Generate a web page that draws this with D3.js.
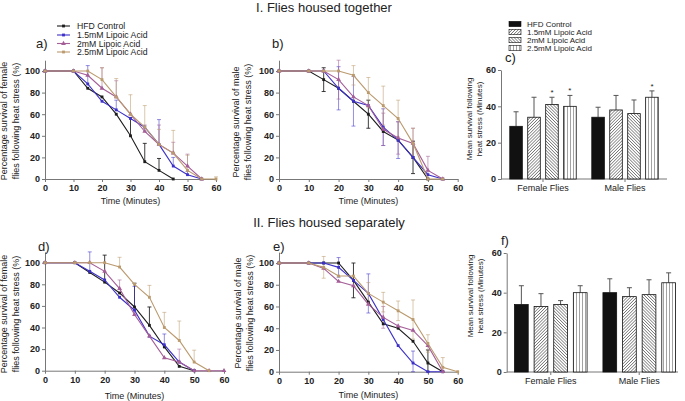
<!DOCTYPE html>
<html>
<head>
<meta charset="utf-8">
<script src="https://cdn.jsdelivr.net/npm/d3@7"></script>
<style>
  body { margin: 0; background: #fff; }
  svg { font-family: "Liberation Sans", Arial, sans-serif; }
</style>
</head>
<body>
<script>
// ---- data ----
const times = [0, 10, 15, 20, 25, 30, 35, 40, 45, 50, 55, 60];
const groups = ["HFD Control", "1.5mM Lipoic Acid", "2mM Lipoic Acid", "2.5mM Lipoic Acid"];
const lineColors = ["#1c1c1c", "#3d31c9", "#a45e98", "#bb9a6e"];
const xTicks = [0, 10, 20, 30, 40, 50, 60];
const yTicks = [0, 20, 40, 60, 80, 100];
const barTicks = [0, 20, 40, 60];
const sexes = ["Female Flies", "Male Flies"];

// a) female, housed together
const aCtrl = [100, 100, 84, 76, 60, 40, 16, 8, 0, null, null, null];
const aCtrlErr = [0, 0, 0, 0, 0, 17, 17, 11, 0, 0, 0, 0];
const aLow = [100, 100, 88, 72, 64, 56, 48, 32, 12, 4, 0, null];
const aLowErr = [0, 0, 17, 0, 9, 0, 0, 23, 8, 3, 0, 0];
const aMid = [100, 100, 96, 84, 76, 60, 44, 32, 24, 12, 0, null];
const aMidErr = [0, 0, 0, 19, 15, 0, 6, 18, 10, 11, 0, 0];
const aHigh = [100, 100, 100, 92, 76, 60, 48, 32, 24, 8, 0, 0];
const aHighErr = [0, 0, 0, 11, 17, 18, 20, 14, 21, 14, 0, 2];

// b) male, housed together
const bCtrl = [100, 100, 92, 84, 72, 60, 44, 36, 20, 0, null, null];
const bCtrlErr = [0, 0, 11, 0, 0, 13, 0, 0, 15, 0, 0, 0];
const bLow = [100, 100, 100, 84, 72, 68, 48, 36, 20, 4, 0, null];
const bLowErr = [0, 0, 0, 20, 23, 0, 17, 17, 0, 0, 0, 0];
const bMid = [100, 100, 100, 92, 76, 68, 46, 38, 33, 8, 0, null];
const bMidErr = [0, 0, 0, 18, 0, 0, 15, 15, 14, 13, 0, 0];
const bHigh = [100, 100, 100, 100, 96, 80, 68, 56, 33, 0, 0, null];
const bHighErr = [0, 0, 0, 0, 9, 14, 18, 17, 14, 0, 0, 0];

// d) female, housed separately
const dCtrl = [100, 100, 91, 82, 72, 59, 42, 22, 4, 0, null, null];
const dCtrlErr = [0, 0, 0, 25, 0, 22, 17, 0, 0, 0, 0, 0];
const dLow = [100, 100, 92, 84, 68, 56, 32, 24, 8, 0, null, null];
const dLowErr = [0, 0, 18, 0, 0, 22, 0, 10, 0, 0, 0, 0];
const dMid = [100, 100, 100, 92, 76, 52, 32, 12, 8, 0, 0, 0];
const dMidErr = [0, 0, 0, 0, 8, 0, 0, 0, 12, 0, 0, 0];
const dHigh = [100, 100, 100, 100, 96, 80, 68, 40, 28, 8, 0, null];
const dHighErr = [0, 0, 0, 0, 9, 0, 11, 14, 18, 11, 0, 0];

// e) male, housed separately
const eCtrl = [100, 100, 100, 100, 84, 64, 44, 40, 28, 8, 0, null];
const eCtrlErr = [0, 0, 0, 0, 16, 0, 0, 0, 0, 12, 0, 0];
const eLow = [100, 100, 100, 96, 84, 72, 48, 24, 8, 0, 0, null];
const eLowErr = [0, 0, 0, 9, 0, 18, 0, 0, 11, 0, 0, 0];
const eMid = [100, 100, 95, 83, 79, 62, 50, 42, 38, 24, 0, null];
const eMidErr = [0, 0, 0, 0, 0, 0, 10, 0, 0, 0, 0, 0];
const eHigh = [100, 100, 96, 88, 88, 72, 64, 56, 48, 26, 4, 0];
const eHighErr = [0, 0, 10, 0, 0, 10, 9, 9, 18, 8, 9, 0];

// c) mean survival, housed together
const cFemale = [29, 34, 41, 40];
const cFemaleErr = [8, 11, 4, 6];
const cMale = [34, 38, 36, 45];
const cMaleErr = [5.5, 8, 7.5, 3.5];
const cFemaleStar = [false, false, true, true];
const cMaleStar = [false, false, false, true];

// f) mean survival, housed separately
const fFemale = [34, 33, 34, 40];
const fFemaleErr = [9.5, 6.5, 2, 3.5];
const fMale = [40, 38, 39, 45];
const fMaleErr = [7, 4.5, 7.5, 5];
const fFemaleStar = [false, false, false, false];
const fMaleStar = [false, false, false, false];

// ---- drawing ----
const svg = d3.select("body").append("svg").attr("width", 685).attr("height", 401);

const defs = svg.append("defs");
function hatch(id, angle, gap, w) {
  defs.append("pattern").attr("id", id).attr("patternUnits", "userSpaceOnUse")
    .attr("width", gap).attr("height", gap).attr("patternTransform", "rotate(" + angle + ")")
    .call(p => {
      p.append("rect").attr("width", gap).attr("height", gap).attr("fill", "#fff");
      p.append("line").attr("x1", 0).attr("y1", 0).attr("x2", 0).attr("y2", gap)
        .attr("stroke", "#333").attr("stroke-width", w);
    });
}
hatch("h15", 45, 2.2, 1);
hatch("h2", -45, 2.2, 1);
hatch("h25", 0, 3, 0.9);
const barFills = ["#111", "url(#h15)", "url(#h2)", "url(#h25)"];

function styleAxis(g) {
  g.select(".domain").attr("stroke", "#777");
  g.selectAll(".tick line").attr("stroke", "#777");
  g.selectAll(".tick text").attr("font-size", 9).attr("font-weight", "bold")
    .attr("fill", "#222").attr("font-family", "Liberation Sans, Arial, sans-serif");
}

function text(x, y, s, size, opts) {
  const t = svg.append("text").attr("x", x).attr("y", y).attr("font-size", size)
    .attr("fill", "#222").text(s);
  if (opts && opts.anchor) t.attr("text-anchor", opts.anchor);
  if (opts && opts.rotate) t.attr("transform", "rotate(-90," + x + "," + y + ")");
  return t;
}

const symbols = [d3.symbolSquare, d3.symbolSquare, d3.symbolTriangle, d3.symbolSquare];

function linePanel(p) {
  const x = d3.scaleLinear().domain([0, 60]).range([p.x0, p.x1]);
  const y = d3.scaleLinear().domain([0, 100]).range([p.y0, p.y100]);
  const yTop = y(110);

  svg.append("g").attr("transform", "translate(0," + p.y0 + ")")
    .call(d3.axisBottom(x).tickValues(xTicks).tickSize(3).tickSizeOuter(0).tickPadding(3))
    .call(styleAxis);
  const ya = d3.scaleLinear().domain([0, 110]).range([p.y0, yTop]);
  svg.append("g").attr("transform", "translate(" + p.x0 + ",0)")
    .call(d3.axisLeft(ya).tickValues(yTicks).tickSize(3).tickSizeOuter(0).tickPadding(2))
    .call(styleAxis);

  const line = d3.line().defined(d => d.v != null).x(d => x(d.t)).y(d => y(d.v));

  p.series.forEach((s, i) => {
    const pts = times.map((t, j) => ({ t: t, v: s[0][j], e: s[1][j] }));
    const eb = svg.append("g").attr("stroke", lineColors[i])
      .attr("stroke-opacity", i === 0 ? 0.85 : 0.55).attr("stroke-width", 1);
    pts.filter(d => d.v != null && d.e > 0).forEach(d => {
      const cx = x(d.t);
      const hi = y(Math.min(d.v + d.e, 112));
      const lo = p.twoSided ? y(Math.max(d.v - d.e, 0)) : y(d.v);
      eb.append("line").attr("x1", cx).attr("x2", cx).attr("y1", lo).attr("y2", hi);
      eb.append("line").attr("x1", cx - 2).attr("x2", cx + 2).attr("y1", hi).attr("y2", hi);
      if (p.twoSided) eb.append("line").attr("x1", cx - 2).attr("x2", cx + 2).attr("y1", lo).attr("y2", lo);
    });
  });

  p.series.forEach((s, i) => {
    const pts = times.map((t, j) => ({ t: t, v: s[0][j] }));
    svg.append("path").datum(pts).attr("d", line).attr("fill", "none")
      .attr("stroke", lineColors[i]).attr("stroke-width", 1.1);
    svg.append("g").selectAll("path").data(pts.filter(d => d.v != null)).join("path")
      .attr("d", d3.symbol().type(symbols[i]).size(i === 2 ? 10 : 8))
      .attr("transform", d => "translate(" + x(d.t) + "," + y(d.v) + ")")
      .attr("fill", lineColors[i]);
  });

  text(p.letter[0], p.letter[1], p.letter[2], 13);
  text((p.x0 + p.x1) / 2, p.xlabY, "Time (Minutes)", 9, { anchor: "middle" });
  text(p.ylabX, p.ylabY, p.ylab[0], 9, { anchor: "middle", rotate: true });
  text(p.ylabX + 12, p.ylabY, p.ylab[1], 9, { anchor: "middle", rotate: true });
}

function barPanel(p) {
  const y = d3.scaleLinear().domain([0, 60]).range([p.y0, p.y60]);
  const x0 = d3.scaleBand().domain(sexes).range([p.bx0, p.bx1])
    .paddingInner(p.padIn).paddingOuter(p.padOut);
  const x1 = d3.scaleBand().domain(groups).range([0, x0.bandwidth()])
    .paddingInner(0.3).paddingOuter(0.1);

  svg.append("g").attr("transform", "translate(" + p.ax + ",0)")
    .call(d3.axisLeft(y).tickValues(barTicks).tickSize(3).tickSizeOuter(0).tickPadding(2))
    .call(styleAxis);
  svg.append("line").attr("x1", p.ax).attr("x2", p.axEnd).attr("y1", p.y0).attr("y2", p.y0)
    .attr("stroke", "#777");
  sexes.forEach(s => {
    const cx = x0(s) + x0.bandwidth() / 2;
    svg.append("line").attr("x1", cx).attr("x2", cx).attr("y1", p.y0).attr("y2", p.y0 + 3)
      .attr("stroke", "#777");
    text(cx, p.y0 + 12, s, 9, { anchor: "middle" });
  });

  const rows = [[p.female, p.femaleErr, p.femaleStar], [p.male, p.maleErr, p.maleStar]];
  rows.forEach((r, k) => {
    const gx = x0(sexes[k]);
    groups.forEach((g, i) => {
      const bx = gx + x1(g), bw = x1.bandwidth(), cx = bx + bw / 2;
      const top = y(r[0][i] + r[1][i]);
      svg.append("line").attr("x1", cx).attr("x2", cx).attr("y1", y(r[0][i])).attr("y2", top)
        .attr("stroke", "#555").attr("stroke-width", 1);
      svg.append("line").attr("x1", cx - 2.5).attr("x2", cx + 2.5).attr("y1", top).attr("y2", top)
        .attr("stroke", "#555").attr("stroke-width", 1);
      svg.append("rect").attr("x", bx).attr("y", y(r[0][i]))
        .attr("width", bw).attr("height", p.y0 - y(r[0][i]))
        .attr("fill", barFills[i]).attr("stroke", "#111").attr("stroke-width", 0.8);
      if (r[2][i]) text(cx, top - 2, "*", 8, { anchor: "middle" });
    });
  });

  text(p.letter[0], p.letter[1], p.letter[2], 13);
  text(p.ylabX, p.ylabY, "Mean survival following", 8, { anchor: "middle", rotate: true });
  text(p.ylabX + 10, p.ylabY, "heat stress (Minutes)", 8, { anchor: "middle", rotate: true });
}

// titles
text(324, 12, "I. Flies housed together", 13, { anchor: "middle" });
text(329, 227, "II. Flies housed separately", 13, { anchor: "middle" });

linePanel({
  x0: 45, x1: 216, y0: 179, y100: 71, twoSided: false,
  series: [[aCtrl, aCtrlErr], [aLow, aLowErr], [aMid, aMidErr], [aHigh, aHighErr]],
  letter: [36, 48, "a)"], xlabY: 204, ylabX: 7, ylabY: 121,
  ylab: ["Percentage survival of female", "flies following heat stress (%)"]
});
linePanel({
  x0: 279, x1: 457.7, y0: 179, y100: 71, twoSided: true,
  series: [[bCtrl, bCtrlErr], [bLow, bLowErr], [bMid, bMidErr], [bHigh, bHighErr]],
  letter: [272, 48, "b)"], xlabY: 204, ylabX: 239, ylabY: 122,
  ylab: ["Percentage survival of male", "flies following heat stress (%)"]
});
linePanel({
  x0: 45, x1: 224, y0: 370.7, y100: 262.7, twoSided: false,
  series: [[dCtrl, dCtrlErr], [dLow, dLowErr], [dMid, dMidErr], [dHigh, dHighErr]],
  letter: [38, 251, "d)"], xlabY: 399, ylabX: 7, ylabY: 314,
  ylab: ["Percentage survival of female", "flies following heat stress (%)"]
});
linePanel({
  x0: 279, x1: 457.7, y0: 371.7, y100: 263, twoSided: true,
  series: [[eCtrl, eCtrlErr], [eLow, eLowErr], [eMid, eMidErr], [eHigh, eHighErr]],
  letter: [273, 251, "e)"], xlabY: 398, ylabX: 241, ylabY: 313,
  ylab: ["Percentage survival of male", "flies following heat stress (%)"]
});

barPanel({
  ax: 501, axEnd: 667, bx0: 501, bx1: 667, padIn: 0.146, padOut: 0.085, y0: 179, y60: 70,
  female: cFemale, femaleErr: cFemaleErr, femaleStar: cFemaleStar,
  male: cMale, maleErr: cMaleErr, maleStar: cMaleStar,
  letter: [505, 62, "c)"], ylabX: 472, ylabY: 119
});
barPanel({
  ax: 506.7, axEnd: 678, bx0: 509, bx1: 681, padIn: 0.135, padOut: 0.04, y0: 372, y60: 253,
  female: fFemale, femaleErr: fFemaleErr, femaleStar: fFemaleStar,
  male: fMale, maleErr: fMaleErr, maleStar: fMaleStar,
  letter: [501, 245, "f)"], ylabX: 473, ylabY: 296
});

// legend for line charts (panel a)
const lg = svg.append("g");
groups.forEach((g, i) => {
  const ly = [26, 35, 43.5, 52][i];
  lg.append("line").attr("x1", 57).attr("x2", 70).attr("y1", ly).attr("y2", ly)
    .attr("stroke", lineColors[i]).attr("stroke-width", 1.1);
  lg.append("path").attr("d", d3.symbol().type(symbols[i]).size(i === 2 ? 10 : 8))
    .attr("transform", "translate(63.5," + ly + ")").attr("fill", lineColors[i]);
  lg.append("text").attr("x", 77).attr("y", ly + 3).attr("font-size", 8.7)
    .attr("fill", "#222").text(g);
});

// legend for bar charts (panel c)
const bg = svg.append("g");
groups.forEach((g, i) => {
  const ly = [24, 32, 40, 48][i];
  bg.append("rect").attr("x", 509).attr("y", ly - 2.7).attr("width", 12).attr("height", 5.4)
    .attr("fill", barFills[i]).attr("stroke", "#111").attr("stroke-width", 0.6);
  bg.append("text").attr("x", 527).attr("y", ly + 2.8).attr("font-size", 8)
    .attr("fill", "#222").text(g);
});
</script>
</body>
</html>
